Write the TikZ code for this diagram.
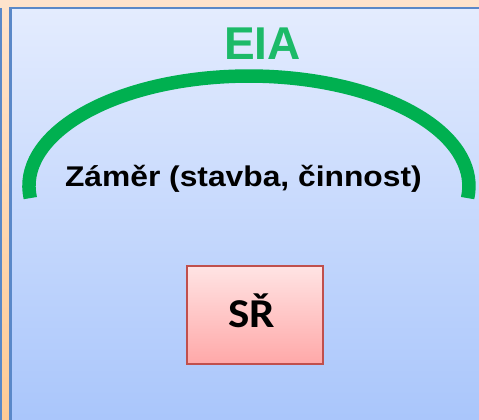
\documentclass[tikz,border=0pt]{standalone}
\usepackage{fontspec}
\setmainfont{Liberation Sans}
\newfontfamily\calfont{Carlito}
\definecolor{peachtop}{RGB}{254,227,204}
\definecolor{peachbot}{RGB}{255,203,150}
\definecolor{bluetop}{RGB}{228,236,254}
\definecolor{bluebot}{RGB}{168,197,251}
\definecolor{bordblue}{RGB}{90,136,200}
\definecolor{arcgreen}{RGB}{0,176,80}
\definecolor{eiagreen}{RGB}{28,186,104}
\definecolor{boxtop}{RGB}{255,228,228}
\definecolor{boxbot}{RGB}{255,168,168}
\definecolor{boxline}{RGB}{192,80,77}
\tikzset{
  bigtitle/.style={font=\fontsize{46}{46}\selectfont\bfseries, text=eiagreen, inner sep=0pt},
  plantext/.style={font=\fontsize{28.5}{28.5}\selectfont\bfseries, text=black, inner sep=0pt, xscale=1.115},
  srbox/.style={draw=boxline, line width=2pt, top color=boxtop, bottom color=boxbot,
    minimum width=136pt, minimum height=98.6pt, inner sep=0pt},
  srtext/.style={font=\calfont\fontsize{41}{41}\selectfont\bfseries, text=black, inner sep=0pt, xscale=1.1}
}
\begin{document}
\begin{tikzpicture}[x=1pt,y=1pt]
\useasboundingbox (0,0) rectangle (479,420);
\begin{scope}
\clip (0,0) rectangle (479,420);
\shade[top color=peachtop, bottom color=peachbot] (0,0) rectangle (479,420);
\fill[bordblue] (-1,0) rectangle (1.7,412);
\shade[top color=bluetop, bottom color=bluebot, draw=bordblue, line width=2.7pt] (10.7,412) rectangle (500,-10);
\draw[arcgreen, line width=13.5pt] (30.3,221.9) arc[start angle=186.3, end angle=-6.3, x radius=220, y radius=110];
\end{scope}
\node[bigtitle, anchor=base] (eia) at (262.5,360) {EIA};
\node[plantext, anchor=base] (plan) at (243.4,233) {Záměr (stavba, činnost)};
\node[srbox] (sr) at (254.7,105) {};
\node[srtext, anchor=base] (srt) at (251.7,92.7) {SŘ};
\end{tikzpicture}
\end{document}
